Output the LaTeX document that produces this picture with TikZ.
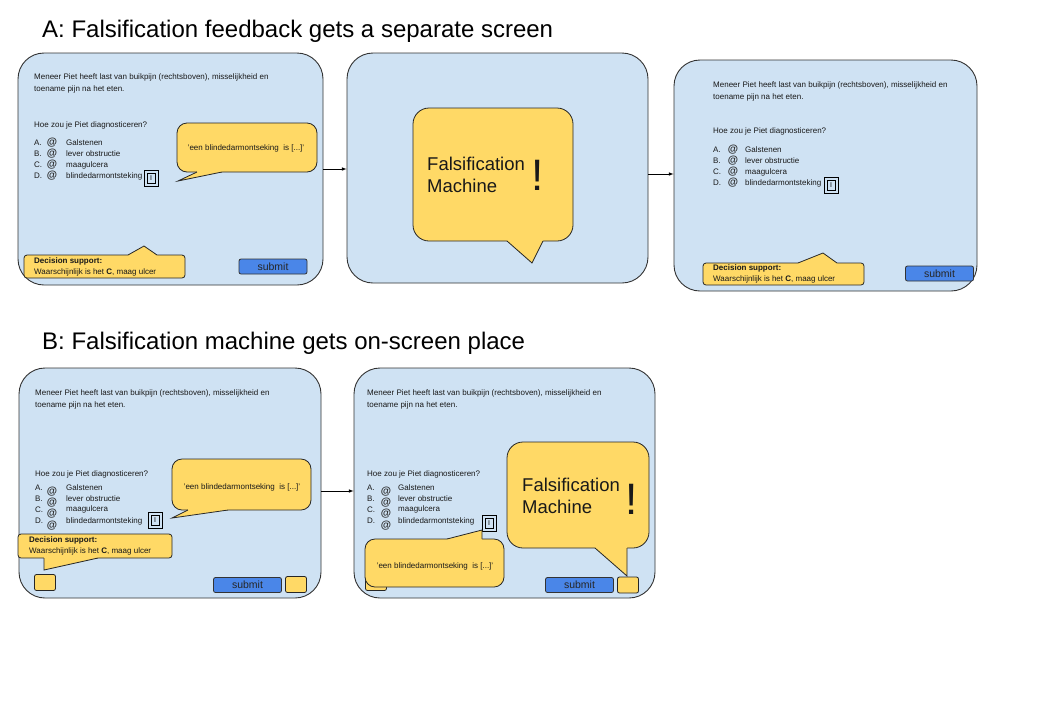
\documentclass[tikz,border=0pt]{standalone}
\usepackage{fontspec}
\setmainfont{Liberation Sans}
\definecolor{scrblue}{HTML}{CFE2F3}
\definecolor{bubyellow}{HTML}{FFD966}
\definecolor{subblue}{HTML}{4A86E8}
\begin{document}
\begin{tikzpicture}[x=1pt,y=-1pt,>=latex,
  screen/.style={draw=black!80,line width=0.9pt,fill=scrblue,rounded corners=26,inner sep=0},
  bubble/.style={draw=black!85,line width=0.8pt,fill=bubyellow,rounded corners=10,inner sep=0},
  tail/.style={draw=black!85,line width=0.8pt},
  tailfill/.style={fill=bubyellow},
  txt/.style={font=\fontsize{8}{12}\selectfont,inner sep=0,text=black!90},
  radio/.style={font=\fontsize{10.5}{10.5}\selectfont\bfseries,inner sep=0,text=black!85},
  info/.style={draw=black,line width=0.6pt,minimum width=14,minimum height=16,inner sep=0},
  infoin/.style={draw=black,line width=0.6pt,minimum width=8,minimum height=10,inner sep=0,font=\fontsize{7}{7}\selectfont},
  submit/.style={draw=black!80,line width=0.8pt,fill=subblue,rounded corners=2,minimum width=68,minimum height=15,inner sep=0,font=\fontsize{10.5}{10.5}\selectfont,text=black!85},
  knob/.style={draw=black!85,line width=0.8pt,fill=bubyellow,rounded corners=2,minimum width=21,minimum height=16,inner sep=0},
  title/.style={font=\fontsize{24}{28}\selectfont,inner sep=0,anchor=west},
  fm/.style={font=\fontsize{18.5}{22}\selectfont,inner sep=0,align=left,anchor=west,text=black!90},
  bang/.style={font=\fontsize{44}{44}\selectfont,inner sep=0,text=black!90}]

\fill[white] (0,0) rectangle (1049,713);
\useasboundingbox (0,0) rectangle (1049,713);

\node[title] (titleA) at (42,31) {A: Falsification feedback gets a separate screen};
\node[title] (titleB) at (42,343) {B: Falsification machine gets on-screen place};

% screen A1
\node[screen,minimum width=305,minimum height=232] (scrA1) at (170.5,169) {};
\node[txt,align=left,anchor=west] (caseA1) at (34,83) {Meneer Piet heeft last van buikpijn (rechtsboven), misselijkheid en\\toename pijn na het eten.};
\node[txt,anchor=west] (qA1) at (34,125) {Hoe zou je Piet diagnosticeren?};
\foreach \l/\t [count=\i] in {A./Galstenen,B./lever obstructie,C./maagulcera,D./blindedarmontsteking}{
  \node[txt,anchor=west] (lA1\i) at (34,132+11*\i) {\l};
  \node[radio] (rA1\i) at (52,132+11*\i) {@};
  \node[txt,anchor=west] (oA1\i) at (66,132+11*\i) {\t};
}
\node[info] (iA1) at (151,178) {};
\node[infoin] (iA1in) at (iA1) {I};
\node[bubble,minimum width=140,minimum height=49] (talkA1) at (247,147.5) {};
\node[txt] (talkA1t) at (246,148) {'een blindedarmontseking\ \ is [...]'};
\fill[tailfill] (197,170) -- (197,172) -- (178,181) -- (222,172) -- (222,170) -- cycle;
\draw[tail] (197,172) -- (178,181) -- (222,172);
\node[bubble,rounded corners=3,minimum width=161,minimum height=23] (dsA1) at (104.5,266.5) {};
\fill[tailfill] (128,257) -- (128,255) -- (144,246) -- (157,255) -- (157,257) -- cycle;
\draw[tail] (128,255) -- (144,246) -- (157,255);
\node[txt,align=left,anchor=west,font=\fontsize{8}{11}\selectfont] (dsA1t) at (34,266.5) {\textbf{Decision support:}\\Waarschijnlijk is het \textbf{C}, maag ulcer};
\node[submit] (subA1) at (273,266.5) {submit};

% screen A2
\node[screen,minimum width=301,minimum height=230] (scrA2) at (497.5,168) {};
\node[bubble,rounded corners=16,minimum width=160,minimum height=133] (fmA2) at (493,174.5) {};
\fill[tailfill] (507,239) -- (507,241) -- (532,263) -- (543,241) -- (543,239) -- cycle;
\draw[tail] (507,241) -- (532,263) -- (543,241);
\node[fm] (fmA2t) at (427,175) {Falsification\\Machine};
\node[bang] (bangA2) at (538,175) {!};

% screen A3
\node[screen,minimum width=303,minimum height=231] (scrA3) at (825.5,175.5) {};
\node[txt,align=left,anchor=west] (caseA3) at (713,91) {Meneer Piet heeft last van buikpijn (rechtsboven), misselijkheid en\\toename pijn na het eten.};
\node[txt,anchor=west] (qA3) at (713,131) {Hoe zou je Piet diagnosticeren?};
\foreach \l/\t [count=\i] in {A./Galstenen,B./lever obstructie,C./maagulcera,D./blindedarmontsteking}{
  \node[txt,anchor=west] (lA3\i) at (713,139+11*\i) {\l};
  \node[radio] (rA3\i) at (733,139+11*\i) {@};
  \node[txt,anchor=west] (oA3\i) at (745,139+11*\i) {\t};
}
\node[info] (iA3) at (831,185) {};
\node[infoin] (iA3in) at (iA3) {I};
\node[bubble,rounded corners=3,minimum width=161,minimum height=22] (dsA3) at (783.5,274) {};
\fill[tailfill] (798,265) -- (798,263) -- (823,253) -- (837,263) -- (837,265) -- cycle;
\draw[tail] (798,263) -- (823,253) -- (837,263);
\node[txt,align=left,anchor=west,font=\fontsize{8}{11}\selectfont] (dsA3t) at (713,274) {\textbf{Decision support:}\\Waarschijnlijk is het \textbf{C}, maag ulcer};
\node[submit] (subA3) at (939.5,273.5) {submit};

\draw[->,line width=0.6pt] (scrA1.east) -- (scrA1.east -| scrA2.west);
\coordinate (outA2) at ([yshift=-6pt]scrA2.east);
\draw[->,line width=0.6pt] (outA2) -- (outA2 -| scrA3.west);

% screen B1
\node[screen,minimum width=302,minimum height=230] (scrB1) at (170,483) {};
\node[txt,align=left,anchor=west] (caseB1) at (35,399) {Meneer Piet heeft last van buikpijn (rechtsboven), misselijkheid en\\toename pijn na het eten.};
\node[txt,anchor=west] (qB1) at (35,474) {Hoe zou je Piet diagnosticeren?};
\foreach \l/\t [count=\i] in {A./Galstenen,B./lever obstructie,C./maagulcera,D./blindedarmontsteking}{
  \node[txt,anchor=west] (lB1\i) at (35,476+11.3*\i) {\l};
  \node[radio] (rB1\i) at (52,480+11.3*\i) {@};
  \node[txt,anchor=west] (oB1\i) at (66,476+11.3*\i) {\t};
}
\node[info] (iB1) at (155,520) {};
\node[infoin] (iB1in) at (iB1) {I};
\node[bubble,minimum width=139,minimum height=51] (talkB1) at (241.5,484.5) {};
\node[txt] (talkB1t) at (242,487) {'een blindedarmontseking\ \ is [...]'};
\fill[tailfill] (188,508) -- (188,510) -- (172,518) -- (228,510) -- (228,508) -- cycle;
\draw[tail] (188,510) -- (172,518) -- (228,510);
\node[bubble,rounded corners=3,minimum width=154,minimum height=24] (dsB1) at (95,546) {};
\fill[tailfill] (44,556) -- (44,570) -- (98,558) -- (98,556) -- cycle;
\draw[tail] (44,558) -- (44,570) -- (98,558);
\node[txt,align=left,anchor=west,font=\fontsize{8}{11}\selectfont] (dsB1t) at (29,545.5) {\textbf{Decision support:}\\Waarschijnlijk is het \textbf{C}, maag ulcer};
\node[knob] (knobB1l) at (45,582.5) {};
\node[submit] (subB1) at (247.5,585) {submit};
\node[knob] (knobB1r) at (296,584.5) {};

% screen B2
\node[screen,minimum width=301,minimum height=230] (scrB2) at (504.5,483) {};
\node[txt,align=left,anchor=west] (caseB2) at (367,399) {Meneer Piet heeft last van buikpijn (rechtsboven), misselijkheid en\\toename pijn na het eten.};
\node[txt,anchor=west] (qB2) at (367,474) {Hoe zou je Piet diagnosticeren?};
\foreach \l/\t [count=\i] in {A./Galstenen,B./lever obstructie,C./maagulcera,D./blindedarmontsteking}{
  \node[txt,anchor=west] (lB2\i) at (367,476+11.3*\i) {\l};
  \node[radio] (rB2\i) at (386,480+11.3*\i) {@};
  \node[txt,anchor=west] (oB2\i) at (398,476+11.3*\i) {\t};
}
\node[info] (iB2) at (489,523) {};
\node[infoin] (iB2in) at (iB2) {I};
\node[knob] (knobB2l) at (376,582.5) {};
\node[bubble,minimum width=139,minimum height=48] (talkB2) at (434.5,563) {};
\fill[tailfill] (447,541) -- (447,539) -- (482,530) -- (482,541) -- cycle;
\draw[tail] (447,539) -- (482,530) -- (482,539);
\node[txt] (talkB2t) at (435,566) {'een blindedarmontseking\ \ is [...]'};
\node[bubble,rounded corners=16,minimum width=142,minimum height=106] (fmB2) at (578,495) {};
\fill[tailfill] (595,546) -- (595,548) -- (627,576) -- (627,548) -- (627,546) -- cycle;
\draw[tail] (595,548) -- (627,576) -- (627,548);
\node[fm] (fmB2t) at (522,496) {Falsification\\Machine};
\node[bang] (bangB2) at (632,499) {!};
\node[submit] (subB2) at (579.5,585) {submit};
\node[knob] (knobB2r) at (628,585) {};

\coordinate (outB1) at ([yshift=-8pt]scrB1.east);
\draw[->,line width=0.6pt] (outB1) -- (outB1 -| scrB2.west);

\end{tikzpicture}
\end{document}
